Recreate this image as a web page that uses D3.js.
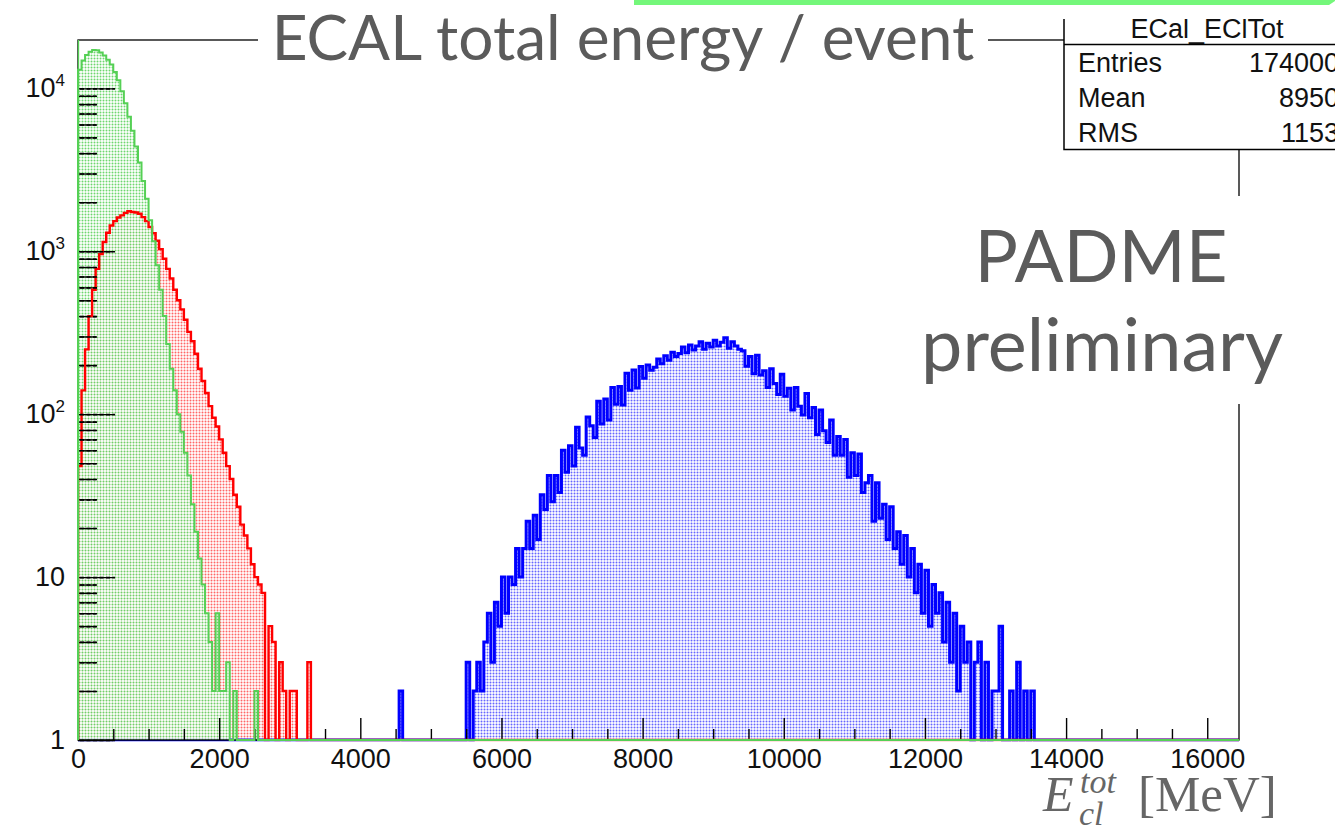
<!DOCTYPE html>
<html><head><meta charset="utf-8">
<script src="https://cdn.jsdelivr.net/npm/d3@7"></script>
<style>
html,body{margin:0;padding:0;background:#fff;overflow:hidden}
svg{display:block}
</style></head><body>
<svg id="c" width="1335" height="827"></svg>
<script>
// ---------------- data ----------------
const binWidth = 50;            // MeV per bin
const xDomain = [0, 16450];     // MeV
const yDomain = [1, 19800];     // counts (log)

const greenStart = 0;
const greenValues = [13000,14800,16000,16800,17200,17100,16600,15900,15000,14000,
  12600,11200,9600,8100,6700,5500,4400,3500,2700,2100,
  1550,1150,820,580,400,270,190,140,100,78,
  58,42,28,19,13,9,6,4,2,6,
  2,2,3,1,2,0,0,0,0,0,2];

const redStart = 0;
const redValues = [48,140,250,400,580,780,960,1140,1300,1440,
  1530,1610,1660,1720,1760,1740,1730,1700,1620,1530,
  1410,1290,1160,1030,900,780,680,580,500,440,
  380,320,280,235,190,160,135,112,95,84,
  70,58,48,40,32,27,21,18,15,12,
  10,9,8,0,5,4,0,3,2,0,
  2,2,0,0,0,3];

const blueStart = 4550;
const blueValues = [2,0,0,0,0,0,0,0,0,0,0,0,0,0,0,0,0,0,0,
  3,0,2,3,2,4,6,3,7,5,
  10,6,10,9,15,10,15,22,15,24,
  17,32,26,42,29,42,33,60,44,64,
  48,83,62,56,96,85,72,120,87,124,
  92,146,115,148,114,178,140,187,145,196,
  166,200,186,194,218,204,228,214,240,226,
  236,258,238,266,248,262,278,250,272,258,
  284,262,276,294,254,278,262,250,245,197,
  226,177,230,174,185,146,190,154,132,176,
  129,144,106,146,112,99,134,95,110,75,
  106,79,67,92,56,73,56,70,41,58,
  42,57,33,38,42,22,38,23,28,17,
  27,15,19,12,18,10,15,8,12,6,
  11,5,9,6,8,4,7,3,6,2,
  5,3,4,0,3,4,1,3,0,2,
  2,5,1,0,2,1,3,0,2,1,
  2,0,1];

const xMajorTicks = [0,2000,4000,6000,8000,10000,12000,14000,16000];
const xTickLabels = ["0","2000","4000","6000","8000","10000","12000","14000","16000"];
const xMinorStep = 500;
const yDecades = [1,10,100,1000,10000];
const yTickBase = ["1","10","10","10","10"];
const yTickExp  = ["","","2","3","4"];

const titleText = "ECAL total energy / event";
const statsTitle = "ECal_EClTot";
const statsLabels = ["Entries","Mean","RMS"];
const statsValues = ["174000","8950","1153"];
const watermark = ["PADME","preliminary"];

// ---------------- drawing ----------------
const svg = d3.select("#c");
const W = 1335, H = 827;
const L = 78, R = 1239, T = 40, B = 740;
const x = d3.scaleLinear().domain(xDomain).range([L, R]);
const y = d3.scaleLog().domain(yDomain).range([B, T]);

const defs = svg.append("defs");
defs.append("clipPath").attr("id","frameClip").append("rect")
  .attr("x", L - 1).attr("y", T).attr("width", R - L + 2).attr("height", B - T + 1.5);
defs.append("clipPath").attr("id","statsClip").append("rect")
  .attr("x", 0).attr("y", 19).attr("width", W).attr("height", H);

function makePattern(id, color, op, bg, bgOp) {
  const p = defs.append("pattern").attr("id", id).attr("patternUnits","userSpaceOnUse")
    .attr("width", 3).attr("height", 3);
  if (bg) p.append("rect").attr("width",3).attr("height",3).attr("fill",bg).attr("fill-opacity",bgOp);
  p.append("circle").attr("cx",1.5).attr("cy",1.5).attr("r",1.0).attr("fill",color).attr("fill-opacity", op);
}
const greenCol = "#55d055", redCol = "#ff0000", blueCol = "#0000ff";
makePattern("pG", greenCol, 0.85, "#ffffff", 0.8);
makePattern("pR", redCol, 0.6);
makePattern("pB", blueCol, 0.6);

function buildBins(start, values) {
  const n = Math.ceil((xDomain[1] - xDomain[0]) / binWidth);
  const bins = [];
  for (let i = 0; i < n; i++) {
    const x0 = xDomain[0] + i * binWidth;
    const x1 = Math.min(x0 + binWidth, xDomain[1]);
    const k = Math.round((x0 - start) / binWidth);
    const v = (k >= 0 && k < values.length) ? values[k] : 0;
    bins.push({x0, x1, v});
  }
  return bins;
}
function outline(bins) {
  const p = d3.path();
  p.moveTo(x(bins[0].x0), B);
  bins.forEach(d => {
    const yy = d.v >= 1 ? Math.max(y(d.v), T - 2) : B;
    p.lineTo(x(d.x0), yy);
    p.lineTo(x(d.x1), yy);
  });
  p.lineTo(x(bins[bins.length - 1].x1), B);
  return p.toString();
}
const plot = svg.append("g").attr("clip-path","url(#frameClip)");
function drawFill(bins, pat) {
  plot.append("path").attr("d", outline(bins) + "Z").attr("fill", `url(#${pat})`).attr("stroke","none");
}
function drawLine(g, bins, col, sw) {
  g.append("path").attr("d", outline(bins)).attr("fill","none").attr("stroke", col)
    .attr("stroke-width", sw).attr("stroke-linejoin","miter");
}
const blueBins = buildBins(blueStart, blueValues);
const redBins = buildBins(redStart, redValues);
const greenBins = buildBins(greenStart, greenValues);

// 1) blue first
drawFill(blueBins, "pB");
drawLine(plot, blueBins, blueCol, 3.0);

// 2) frame + axes (drawn with the first histogram)
svg.append("rect").attr("x", L).attr("y", T).attr("width", R - L).attr("height", B - T)
  .attr("fill","none").attr("stroke","#000").attr("stroke-width",1.3);

const xMinorTicks = d3.range(xDomain[0], xDomain[1], xMinorStep).filter(v => v % 2000 !== 0);
const axG = svg.append("g");
axG.append("g").attr("transform", `translate(0,${B})`)
  .call(d3.axisBottom(x).tickValues(xMajorTicks).tickSize(-22).tickPadding(9)
    .tickFormat((d,i) => xTickLabels[i]));
axG.append("g").attr("transform", `translate(0,${B})`)
  .call(d3.axisBottom(x).tickValues(xMinorTicks).tickSize(-11).tickFormat(""));

const yMinorTicks = [];
yDecades.forEach(dcd => { for (let m = 2; m <= 9; m++) { const v = m * dcd; if (v <= yDomain[1]) yMinorTicks.push(v); } });
const yMaj = axG.append("g").attr("transform", `translate(${L},0)`)
  .call(d3.axisLeft(y).tickValues(yDecades).tickSize(-35).tickPadding(13).tickFormat(""));
axG.append("g").attr("transform", `translate(${L},0)`)
  .call(d3.axisLeft(y).tickValues(yMinorTicks).tickSize(-18).tickFormat(""));

axG.selectAll(".domain").remove();
axG.selectAll(".tick line").attr("stroke","#000").attr("stroke-width",1.4);
axG.selectAll("text").attr("font-family","'Liberation Sans', Arial, sans-serif")
  .attr("font-size", 27).attr("fill","#111");
yMaj.selectAll(".tick text").each(function(d, i) {
  const t = d3.select(this).text(null);
  t.append("tspan").text(yTickBase[i]);
  if (yTickExp[i]) t.append("tspan").attr("font-size",17).attr("dy",-11).text(yTickExp[i]);
});

// 3) red & green fills, then their outlines
drawFill(redBins, "pR");
drawFill(greenBins, "pG");
const lines2 = svg.append("g").attr("clip-path","url(#frameClip)");
drawLine(lines2, redBins, redCol, 2.4);
drawLine(lines2, greenBins, greenCol, 2.0);
// the green histogram's edge runs up the left side of the frame
lines2.append("line").attr("x1", x(xDomain[0]) + 0.5).attr("x2", x(xDomain[0]) + 0.5)
  .attr("y1", y(yDomain[1])).attr("y2", y(greenValues[0])).attr("stroke", greenCol).attr("stroke-width", 1.3);

// y ticks show through the green hatch as dashes
const yT = svg.append("g").attr("transform", `translate(${L},0)`);
yT.call(d3.axisLeft(y).tickValues(yDecades).tickSize(-35).tickFormat(""));
yT.append("g").call(d3.axisLeft(y).tickValues(yMinorTicks).tickSize(-18).tickFormat(""));
yT.selectAll(".domain").remove();
yT.selectAll(".tick line").attr("stroke","#000").attr("stroke-width",1.6).attr("stroke-dasharray","4,2.5")
  .attr("transform","translate(2,0)");

// ---------------- title ----------------
const titleFont = "Lato, 'Gill Sans', 'Open Sans', sans-serif";
const titleCx = 623, titleW = 703;
svg.append("rect").attr("x", 258).attr("y", 8).attr("width", 730).attr("height", 60).attr("fill","#fff");
const tt = svg.append("text").attr("font-family", titleFont).attr("font-size", 50)
  .attr("fill","#5b5b5b").attr("text-anchor","middle").attr("x", titleCx).attr("y", 60).text(titleText);
const tw = tt.node().getComputedTextLength();
tt.attr("font-size", 50 * titleW / tw);

// ---------------- stats box ----------------
const sg = svg.append("g").attr("clip-path","url(#statsClip)");
const sx = 1064, sTop = 5, sBot = 149.5, sHead = 44.5;
sg.append("rect").attr("x", sx).attr("y", sTop).attr("width", 320).attr("height", sBot - sTop)
  .attr("fill","#fff").attr("stroke","#000").attr("stroke-width",1.5);
sg.append("line").attr("x1", sx).attr("x2", W + 5).attr("y1", sHead).attr("y2", sHead)
  .attr("stroke","#000").attr("stroke-width",1.5);
sg.append("text").attr("x", 1207).attr("y", 38).attr("text-anchor","middle")
  .attr("font-family","'Liberation Sans', Arial, sans-serif").attr("font-size", 27).attr("fill","#111")
  .text(statsTitle);
statsLabels.forEach((lab, i) => {
  const by = 72 + i * 35;
  sg.append("text").attr("x", 1078).attr("y", by)
    .attr("font-family","'Liberation Sans', Arial, sans-serif").attr("font-size", 27).attr("fill","#111").text(lab);
  sg.append("text").attr("x", 1339).attr("y", by).attr("text-anchor","end")
    .attr("font-family","'Liberation Sans', Arial, sans-serif").attr("font-size", 27).attr("fill","#111").text(statsValues[i]);
});

// ---------------- PADME preliminary ----------------
svg.append("rect").attr("x", 905).attr("y", 196).attr("width", 400).attr("height", 208).attr("fill","#fff");
const wmTargets = [{cx:1101, y:282, w:253}, {cx:1102, y:371, w:362}];
watermark.forEach((s, i) => {
  const t = svg.append("text").attr("font-family", titleFont).attr("font-size", 60)
    .attr("fill","#5b5b5b").attr("text-anchor","middle").attr("x", wmTargets[i].cx).attr("y", wmTargets[i].y).text(s);
  const w = t.node().getComputedTextLength();
  t.attr("font-size", 60 * wmTargets[i].w / w);
});

// ---------------- x axis title ----------------
const serif = "'Liberation Serif', 'Times New Roman', serif";
svg.append("text").attr("x", 1043).attr("y", 811).attr("font-family", serif).attr("font-style","italic")
  .attr("font-size", 50).attr("fill","#666").text("E");
svg.append("text").attr("x", 1080).attr("y", 793).attr("font-family", serif).attr("font-style","italic")
  .attr("font-size", 34).attr("fill","#666").text("tot");
svg.append("text").attr("x", 1079).attr("y", 825).attr("font-family", serif).attr("font-style","italic")
  .attr("font-size", 34).attr("fill","#666").text("cl");
svg.append("text").attr("x", 1138).attr("y", 811).attr("font-family", serif)
  .attr("font-size", 51).attr("fill","#666").text("[MeV]");

// ---------------- green slide bar ----------------
svg.append("path").attr("d", "M634,0H1335V1L1329,5H634Z").attr("fill","#74f77a");
</script>
</body></html>
